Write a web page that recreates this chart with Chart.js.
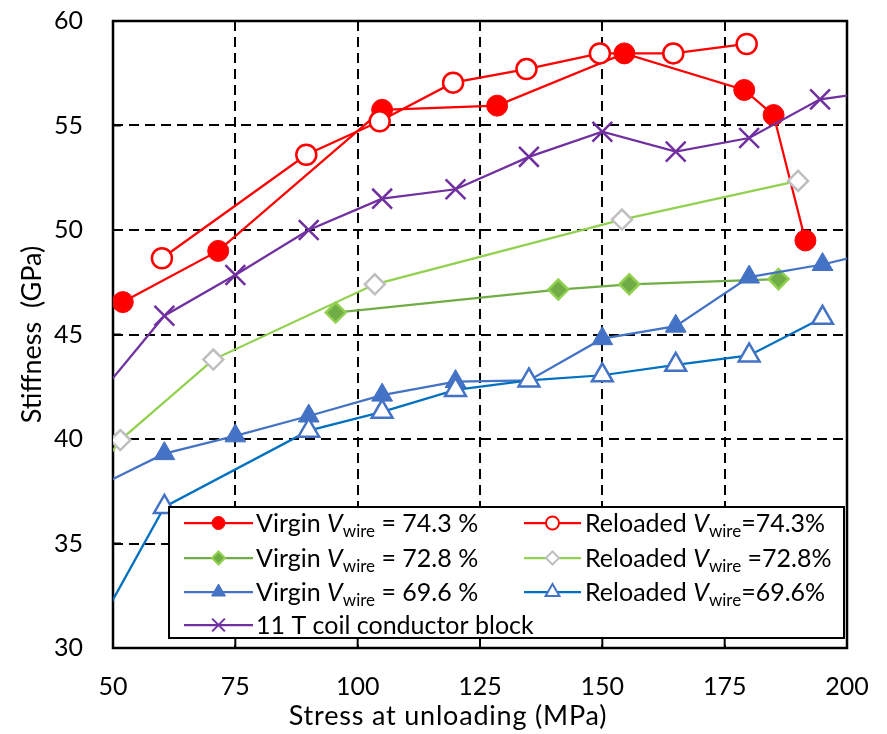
<!DOCTYPE html>
<html>
<head>
<meta charset="utf-8">
<script src="https://cdn.jsdelivr.net/npm/chart.js@4.4.1/dist/chart.umd.min.js"></script>
<style>
  html, body { margin: 0; padding: 0; background: #fff; }
  #stiffChart { display: block; }
</style>
</head>
<body>
<canvas id="stiffChart" width="887" height="734"></canvas>
<script>
// stress at unloading (MPa) / stiffness (GPa)
// (a few points sit just outside the axes so the clipped lines run to the edge)
const virgin743X = [52, 71.5, 105, 128.5, 154.5, 179, 185, 191.5];
const virgin743Y = [46.55, 49.0, 55.75, 55.95, 58.45, 56.7, 55.5, 49.5];

const reload743X = [60, 89.5, 104.5, 119.5, 134.5, 149.5, 164.5, 179.5];
const reload743Y = [48.65, 53.6, 55.2, 57.05, 57.7, 58.45, 58.45, 58.9];

const virgin728X = [95.5, 141, 155.5, 186];
const virgin728Y = [46.05, 47.15, 47.4, 47.65];

const reload728X = [45, 51.5, 70.5, 103.5, 154, 190];
const reload728Y = [37.8, 39.95, 43.8, 47.4, 50.5, 52.35];

const virgin696X = [45, 60.5, 75, 90, 105, 120, 135, 150, 165, 180, 195, 210];
const virgin696Y = [37.5, 39.3, 40.15, 41.1, 42.1, 42.75, 42.8, 44.8, 45.4, 47.75, 48.35, 49.2];

const reload696X = [45, 60.5, 90, 105, 120, 135, 150, 165, 180, 195];
const reload696Y = [30.2, 36.75, 40.4, 41.3, 42.35, 42.8, 43.05, 43.55, 44.0, 45.8];

const coilX = [45, 60.5, 75, 90, 105, 120, 135, 150, 165, 180, 194.5, 210];
const coilY = [41.5, 45.9, 47.85, 50.0, 51.5, 51.95, 53.5, 54.7, 53.75, 54.4, 56.25, 56.75];

const xTicks = [50, 75, 100, 125, 150, 175, 200];
const yTicks = [30, 35, 40, 45, 50, 55, 60];

const xTitle = 'Stress at unloading (MPa)';
const yTitle = 'Stiffness  (GPa)';

// legend text: [before V, after subscript]; null = plain label
const legendText = [
  ['Virgin ', ' = 74.3 %'],
  ['Reloaded ', '=74.3%'],
  ['Virgin ', ' = 72.8 %'],
  ['Reloaded ', ' =72.8%'],
  ['Virgin ', ' = 69.6 %'],
  ['Reloaded ', '=69.6%'],
  ['11 T coil conductor block', null]
];

const FONT = 'Lato, "Open Sans", sans-serif';

const series = [
  { xs: virgin743X, ys: virgin743Y, line: '#FF0000', style: 'circle', bg: '#FF0000', bd: '#FF0000', r: 10.5, bw: 1 },
  { xs: reload743X, ys: reload743Y, line: '#FF0000', style: 'circle', bg: '#FFFFFF', bd: '#FF0000', r: 10, bw: 2.5 },
  { xs: virgin728X, ys: virgin728Y, line: '#70AD47', style: 'rectRot', bg: '#70AD47', bd: '#92D050', r: 10, bw: 2.5 },
  { xs: reload728X, ys: reload728Y, line: '#92D050', style: 'rectRot', bg: '#FFFFFF', bd: '#BFBFBF', r: 10, bw: 2.5 },
  { xs: virgin696X, ys: virgin696Y, line: '#4472C4', style: 'triangle', bg: '#4472C4', bd: '#4472C4', r: 12, bw: 1 },
  { xs: reload696X, ys: reload696Y, line: '#0070C0', style: 'triangle', bg: '#FFFFFF', bd: '#4472C4', r: 12, bw: 2.5 },
  { xs: coilX, ys: coilY, line: '#7030A0', style: 'crossRot', bg: '#7030A0', bd: '#7030A0', r: 14, bw: 2.5 }
];

const toPoints = (xs, ys) => xs.map((x, i) => ({ x: x, y: ys[i] }));

const datasets = series.map((s, i) => ({
  label: legendText[i].filter(Boolean).join('Vwire'),
  data: toPoints(s.xs, s.ys),
  borderColor: s.line,
  borderWidth: 2.25,
  pointStyle: s.style,
  pointRadius: s.r,
  pointHoverRadius: s.r,
  pointBackgroundColor: s.bg,
  pointBorderColor: s.bd,
  pointBorderWidth: s.bw,
  fill: false,
  tension: 0,
  order: series.length - i   // later series on top, like the original
}));

function legendMarker(ctx, s, x, y) {
  const r = s.style === 'crossRot' ? 9 : (s.style === 'triangle' ? 8 : 6.5);
  ctx.save();
  ctx.fillStyle = s.bg;
  ctx.strokeStyle = s.bd;
  ctx.lineWidth = s.bw > 1 ? 2 : 1;
  ctx.beginPath();
  if (s.style === 'circle') {
    ctx.arc(x, y, r, 0, Math.PI * 2);
  } else if (s.style === 'rectRot') {
    ctx.moveTo(x - r, y); ctx.lineTo(x, y - r); ctx.lineTo(x + r, y); ctx.lineTo(x, y + r); ctx.closePath();
  } else if (s.style === 'triangle') {
    ctx.moveTo(x, y - r); ctx.lineTo(x + r * 0.866, y + r / 2); ctx.lineTo(x - r * 0.866, y + r / 2); ctx.closePath();
  } else {
    const d = r * 0.707;
    ctx.moveTo(x - d, y - d); ctx.lineTo(x + d, y + d);
    ctx.moveTo(x + d, y - d); ctx.lineTo(x - d, y + d);
    ctx.stroke(); ctx.restore();
    return;
  }
  ctx.fill();
  ctx.stroke();
  ctx.restore();
}

const frameAndLegend = {
  id: 'frameAndLegend',
  beforeDatasetsDraw(chart) {
    const { ctx, chartArea: a, scales } = chart;
    ctx.save();
    ctx.strokeStyle = '#000';
    ctx.lineWidth = 2;
    ctx.beginPath();
    scales.x.ticks.forEach(t => {
      const px = scales.x.getPixelForValue(t.value);
      ctx.moveTo(px, a.bottom); ctx.lineTo(px, a.bottom - 10);
    });
    scales.y.ticks.forEach(t => {
      const py = scales.y.getPixelForValue(t.value);
      ctx.moveTo(a.left, py); ctx.lineTo(a.left + 8, py);
    });
    ctx.stroke();
    ctx.lineWidth = 2.5;
    ctx.strokeRect(a.left, a.top, a.right - a.left, a.bottom - a.top);
    ctx.restore();
  },
  afterDraw(chart) {
    const { ctx, chartArea: a } = chart;
    ctx.save();

    // x axis title (sits a little left of centre in the original)
    ctx.fillStyle = '#000';
    ctx.font = '27px ' + FONT;
    ctx.letterSpacing = '0.8px';
    ctx.textAlign = 'center';
    ctx.textBaseline = 'middle';
    ctx.fillText(xTitle, 448, 716);
    ctx.letterSpacing = '0px';

    // legend box inside the plot
    const box = { left: 169, top: 507, right: a.right - 3, bottom: 638 };
    ctx.fillStyle = '#fff';
    ctx.fillRect(box.left, box.top, box.right - box.left, box.bottom - box.top);
    ctx.strokeStyle = '#000';
    ctx.lineWidth = 2;
    ctx.strokeRect(box.left, box.top, box.right - box.left, box.bottom - box.top);

    const cols = [{ l0: 184, l1: 253, tx: 256 }, { l0: 524, l1: 581, tx: 585 }];
    const rowY = [523, 523, 558, 558, 592, 592, 625];
    series.forEach((s, i) => {
      const c = cols[i === 6 ? 0 : i % 2];
      const y = rowY[i];
      ctx.strokeStyle = s.line;
      ctx.lineWidth = 2.25;
      ctx.beginPath(); ctx.moveTo(c.l0, y); ctx.lineTo(c.l1, y); ctx.stroke();
      legendMarker(ctx, s, (c.l0 + c.l1) / 2, y);

      const [pre, post] = legendText[i];
      const base = y + 9;
      let x = c.tx;
      ctx.fillStyle = '#000';
      ctx.textAlign = 'left';
      ctx.textBaseline = 'alphabetic';
      ctx.font = '25px ' + FONT;
      ctx.fillText(pre, x, base);
      if (post === null) return;
      x += ctx.measureText(pre).width;
      ctx.font = 'italic 25px ' + FONT;
      ctx.fillText('V', x, base);
      x += ctx.measureText('V').width;
      ctx.font = '17px ' + FONT;
      ctx.fillText('wire', x, base + 5);
      x += ctx.measureText('wire').width;
      ctx.font = '25px ' + FONT;
      ctx.fillText(post, x, base);
    });
    ctx.restore();
  }
};

new Chart(document.getElementById('stiffChart').getContext('2d'), {
  type: 'line',
  data: { datasets: datasets },
  options: {
    responsive: false,
    animation: false,
    devicePixelRatio: 1,
    layout: { padding: { left: 0, right: 40, top: 21, bottom: 0 } },
    plugins: { legend: { display: false }, tooltip: { enabled: false } },
    scales: {
      x: {
        type: 'linear',
        min: xTicks[0],
        max: xTicks[xTicks.length - 1],
        afterFit: s => { s.height = 86; s.paddingLeft = 0; s.paddingRight = 0; },
        ticks: { stepSize: xTicks[1] - xTicks[0], color: '#000', padding: 24, maxRotation: 0,
                 font: { family: FONT, size: 25 } },
        grid: { color: '#000', lineWidth: 2, drawTicks: false },
        border: { display: false, dash: [10, 6] },
        title: { display: false, text: xTitle }
      },
      y: {
        min: yTicks[0],
        max: yTicks[yTicks.length - 1],
        afterFit: s => { s.width = 113; s.paddingTop = 0; s.paddingBottom = 0; },
        ticks: { stepSize: yTicks[1] - yTicks[0], color: '#000', padding: 30,
                 font: { family: FONT, size: 25 } },
        grid: { color: '#000', lineWidth: 2, drawTicks: false },
        border: { display: false, dash: [10, 6] },
        title: { display: true, text: yTitle, color: '#000', padding: { top: 16, bottom: 0 },
                 font: { family: FONT, size: 27 } }
      }
    }
  },
  plugins: [frameAndLegend]
});
</script>
</body>
</html>
